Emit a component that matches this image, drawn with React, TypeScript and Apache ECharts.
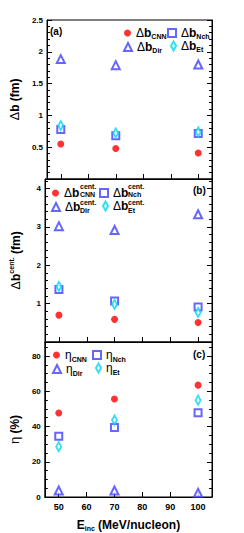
import React, { useEffect, useRef } from "react";
import * as echarts from "echarts";

const energies = [50, 70, 100];
const xTicks = [50, 60, 70, 80, 90, 100];

const aCNN = [0.55, 0.48, 0.41];
const aNch = [0.78, 0.68, 0.715];
const aDir = [1.885, 1.79, 1.8];
const aEt = [0.84, 0.725, 0.74];

const bCNN = [0.7, 0.59, 0.51];
const bNch = [1.37, 1.07, 0.91];
const bDir = [3.02, 2.92, 3.33];
const bEt = [1.45, 0.98, 0.77];

const cCNN = [47.7, 55.6, 63.5];
const cNch = [34.5, 39.5, 47.9];
const cDir = [3.7, 3.7, 2.4];
const cEt = [28.6, 43.7, 55.0];

const methods = ["CNN", "Nch", "Dir", "Et"];
const panelData = [
  [aCNN, aNch, aDir, aEt],
  [bCNN, bNch, bDir, bEt],
  [cCNN, cNch, cDir, cEt],
];
const panelPrefix = ["a", "b", "c"];

const FONT = "Liberation Sans";
const RED = "#ff0000";
const BLUE = "#4040ff";
const CYAN = "#00d8f0";

const grids = [
  { left: 42, width: 170, top: 20, height: 159 },
  { left: 42, width: 170, top: 179, height: 163 },
  { left: 42, width: 170, top: 342, height: 161 },
];
const yCfg = [
  { min: 0, max: 2.5, interval: 0.5, minor: 5, showZero: false },
  { min: 0, max: 4.25, interval: 1, minor: 5, showZero: false },
  { min: 0, max: 88, interval: 20, minor: 4, showZero: true },
];

const symbolOf: Record<string, any> = {
  CNN: { symbol: "circle", size: 7, color: RED, empty: false, lw: 7, lh: 7 },
  Nch: { symbol: "emptyRect", size: 7, color: BLUE, empty: true, lw: 8, lh: 8 },
  Dir: { symbol: "emptyTriangle", size: 8, color: BLUE, empty: true, lw: 8, lh: 8 },
  Et: { symbol: "emptyDiamond", size: [5, 9], color: CYAN, empty: true, lw: 5, lh: 9 },
};

// legend anchor positions (icon left, icon top) per panel per method
const legendPos = [
  { CNN: [124, 27], Nch: [167, 27], Dir: [123, 41], Et: [170, 40] },
  { CNN: [52, 187], Nch: [99, 187], Dir: [51, 201], Et: [102, 200] },
  { CNN: [53, 349], Nch: [92, 349], Dir: [52, 363], Et: [95, 362] },
];
const subPad = [6, 5, 9];

function richFor(i: number) {
  return {
    g: { fontFamily: FONT, fontSize: 12, color: "#000" },
    b: { fontFamily: FONT, fontSize: 12, fontWeight: "bold", color: "#000" },
    s: { fontFamily: FONT, fontSize: 7, fontWeight: "bold", color: "#000", padding: [subPad[i], 0, 0, 0] },
    e: { fontFamily: FONT, fontSize: 12, color: "#000" },
  };
}

function legendLabel(name: string) {
  const [p, m] = name.split("_");
  if (p === "c") return `{e|η}{s|${m}}`;
  if (p === "b") return `{g|Δ}{b|b}`;
  return `{g|Δ}{b|b}{s|${m}}`;
}

// (b) panel stacked super/subscripts: [x, supTop, subTop, sub]
const bScripts: [number, number, number, string][] = [
  [80, 183, 191, "CNN"],
  [128, 183, 191, "Nch"],
  [80, 199, 207, "Dir"],
  [128, 199, 207, "Et"],
];

export default function App() {
  const ref = useRef<HTMLDivElement>(null);
  useEffect(() => {
    if (!ref.current) return;
    const chart = echarts.init(ref.current, null, { renderer: "svg" });

    const xAxis: any[] = grids.map((_, i) => ({
      type: "value",
      gridIndex: i,
      min: 45,
      max: 105,
      axisLine: { show: true, lineStyle: { color: "#000", width: 1 } },
      axisTick: { show: true, inside: true, length: 5, customValues: xTicks, lineStyle: { color: "#000" } },
      axisLabel: {
        show: i === 2,
        customValues: xTicks,
        fontFamily: FONT,
        fontWeight: "bold",
        fontSize: 9,
        color: "#000",
        margin: 5,
      },
      splitLine: { show: false },
      name: i === 2 ? "{b|E}{s|inc}{b| (MeV/nucleon)}" : "",
      nameLocation: "middle",
      nameGap: 20,
      nameTextStyle: {
        rich: {
          b: { fontFamily: FONT, fontSize: 12, fontWeight: "bold", color: "#000" },
          s: { fontFamily: FONT, fontSize: 7, fontWeight: "bold", color: "#000", padding: [8, 0, 0, 0] },
        },
      },
    }));

    const yNames = [
      "{g|Δ}{b|b (fm)}",
      "{g|Δ}{b|b}{p|cent.}{b| (fm)}",
      "{g|η}{b| (%)}",
    ];

    const yAxis: any[] = [];
    yCfg.forEach((c, i) => {
      yAxis.push({
        type: "value",
        gridIndex: i,
        min: c.min,
        max: c.max,
        interval: c.interval,
        position: "left",
        axisLine: { show: true, lineStyle: { color: "#000" } },
        axisTick: { show: true, inside: true, length: 5, lineStyle: { color: "#000" } },
        minorTick: { show: true, splitNumber: c.minor, length: 3, lineStyle: { color: "#000" } },
        axisLabel: {
          fontFamily: FONT,
          fontWeight: "bold",
          fontSize: 8,
          color: "#000",
          margin: 4,
          formatter: (v: number) => {
            if (Math.abs(v / c.interval - Math.round(v / c.interval)) > 1e-6) return "";
            if (v === 0 && !c.showZero) return "";
            return String(v);
          },
        },
        splitLine: { show: false },
        name: yNames[i],
        nameLocation: "middle",
        nameGap: 22,
        nameRotate: 90,
        nameTextStyle: {
          padding: i === 2 ? [0, 20, 0, 0] : 0,
          rich: {
            g: { fontFamily: FONT, fontSize: 13, color: "#000" },
            b: { fontFamily: FONT, fontSize: 12, fontWeight: "bold", color: "#000" },
            p: { fontFamily: FONT, fontSize: 7, fontWeight: "bold", color: "#000", padding: [0, 0, 8, 0] },
          },
        },
      });
      yAxis.push({
        type: "value",
        gridIndex: i,
        min: c.min,
        max: c.max,
        interval: c.interval,
        position: "right",
        axisLine: { show: true, lineStyle: { color: "#000" } },
        axisTick: { show: true, inside: true, length: 5, lineStyle: { color: "#000" } },
        minorTick: { show: true, splitNumber: c.minor, length: 3, lineStyle: { color: "#000" } },
        axisLabel: { show: false },
        splitLine: { show: false },
      });
    });

    const series: any[] = [];
    const legends: any[] = [];
    panelData.forEach((arrs, i) => {
      arrs.forEach((vals, k) => {
        const m = methods[k];
        const s = symbolOf[m];
        const name = `${panelPrefix[i]}_${m}`;
        series.push({
          type: "scatter",
          name,
          xAxisIndex: i,
          yAxisIndex: 2 * i,
          symbol: s.symbol,
          symbolSize: s.size,
          itemStyle: s.empty
            ? { color: s.color, borderColor: s.color, borderWidth: 1 }
            : { color: s.color },
          data: energies.map((e, j) => [e, vals[j]]),
          z: 5,
        });
        const pos = (legendPos[i] as any)[m];
        legends.push({
          show: true,
          data: [name],
          left: pos[0],
          top: pos[1],
          padding: 0,
          itemWidth: s.lw,
          itemHeight: s.lh,
          itemGap: 0,
          selectedMode: false,
          formatter: legendLabel,
          textStyle: { rich: richFor(i) },
        });
      });
    });

    const small = `bold 7px "${FONT}"`;
    const graphic: any[] = [
      { type: "text", left: 50, top: 26, style: { text: "(a)", font: `bold 10px "${FONT}"`, fill: "#000" } },
      { type: "text", left: 193, top: 185, style: { text: "(b)", font: `bold 10px "${FONT}"`, fill: "#000" } },
      { type: "text", left: 193, top: 349, style: { text: "(c)", font: `bold 10px "${FONT}"`, fill: "#000" } },
    ];
    bScripts.forEach(([x, supTop, subTop, sub]) => {
      graphic.push({ type: "text", left: x, top: supTop, style: { text: "cent.", font: small, fill: "#000", lineHeight: 7 } });
      graphic.push({ type: "text", left: x, top: subTop, style: { text: sub, font: small, fill: "#000", lineHeight: 7 } });
    });

    chart.setOption({
      animation: false,
      backgroundColor: "#fff",
      grid: grids.map((g) => ({ ...g, show: true, borderColor: "#000", borderWidth: 1, backgroundColor: "transparent" })),
      xAxis,
      yAxis,
      series,
      legend: legends,
      graphic,
    });
    return () => chart.dispose();
  }, []);
  return (
    <div
      ref={ref}
      style={{ position: "fixed", left: 0, top: 0, width: 244, height: 533, background: "#fff" }}
    />
  );
}
